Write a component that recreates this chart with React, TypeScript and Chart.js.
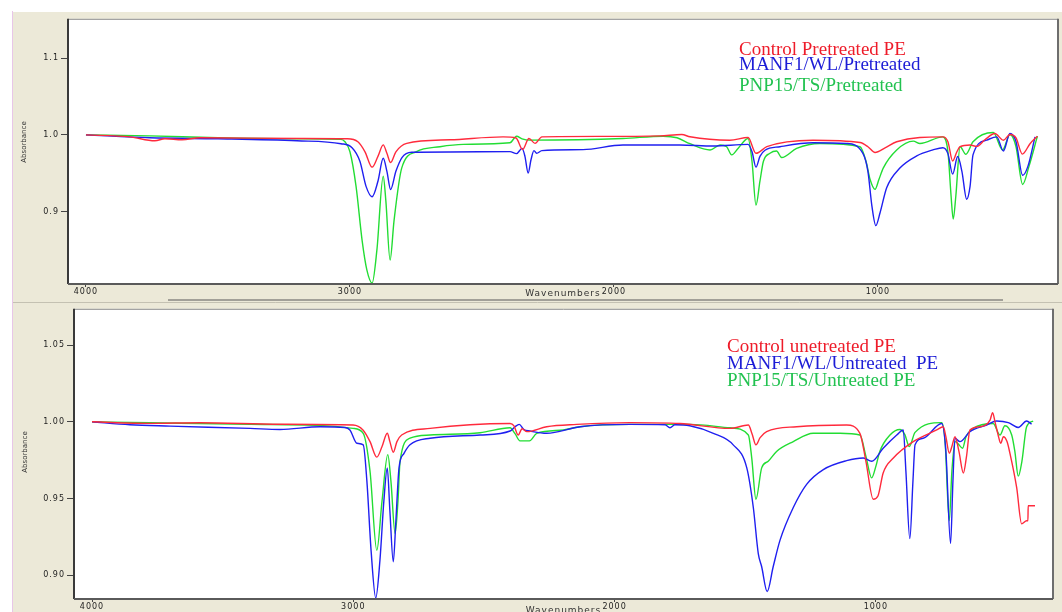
import React, { useEffect, useRef } from "react";
import { Chart, registerables } from "chart.js";

Chart.register(...registerables);

type Pt = [number, number]; // [wavenumber cm-1, absorbance]

// ---------- Top panel (pretreated) ----------
const topControl: Pt[] = [
  [4000, 1.0], [3833, 0.9974], [3739, 0.9923], [3701, 0.9949], [3636, 0.9936], [3568, 0.9962],
  [3189, 0.9953], [3011, 0.9949], [2970, 0.991], [2943, 0.978], [2916, 0.958], [2894, 0.972],
  [2874, 0.987], [2860, 0.976], [2846, 0.964], [2826, 0.978], [2785, 0.989], [2621, 0.9936],
  [2420, 0.9974], [2371, 0.996], [2346, 0.981], [2322, 0.9953], [2299, 0.989], [2273, 0.9974],
  [2053, 0.998], [1826, 0.9987], [1743, 1.0004], [1712, 0.9975], [1561, 0.993], [1492, 0.9965],
  [1462, 0.976], [1421, 0.9846], [1246, 0.993], [1068, 0.99], [1038, 0.9846], [1011, 0.977],
  [973, 0.983], [929, 0.991], [754, 0.9974], [735, 0.991], [717, 0.966], [701, 0.978],
  [689, 0.9846], [651, 0.9868], [626, 0.985], [595, 0.9936], [557, 1.0017], [525, 0.993],
  [500, 1.0004], [477, 0.996], [453, 0.975], [424, 0.9885], [396, 0.9983],
];
const topManf: Pt[] = [
  [4000, 1.0], [3758, 0.9962], [3500, 0.9949], [3201, 0.9923], [3034, 0.9885], [2992, 0.9833],
  [2962, 0.9654], [2939, 0.933], [2916, 0.9196], [2894, 0.9397], [2874, 0.9696], [2860, 0.9526],
  [2846, 0.929], [2826, 0.9526], [2803, 0.9705], [2766, 0.9773], [2621, 0.9778], [2394, 0.9782],
  [2369, 0.9756], [2348, 0.9824], [2337, 0.9718], [2325, 0.9504], [2314, 0.968], [2303, 0.9795],
  [2293, 0.976], [2273, 0.9795], [2117, 0.9808], [1966, 0.9868], [1750, 0.9868], [1625, 0.9855],
  [1492, 0.9876], [1477, 0.978], [1462, 0.958], [1447, 0.972], [1428, 0.98], [1371, 0.9846],
  [1246, 0.9897], [1119, 0.9888], [1057, 0.976], [1038, 0.9526], [1023, 0.9077], [1008, 0.882],
  [992, 0.8987], [967, 0.9312], [917, 0.9568], [853, 0.9727], [792, 0.9804], [754, 0.9833],
  [735, 0.9756], [717, 0.9491], [698, 0.9718], [682, 0.9526], [664, 0.9163], [651, 0.9333],
  [640, 0.974], [588, 0.9932], [550, 0.9974], [525, 0.9791], [500, 1.0017], [477, 0.991],
  [452, 0.9474], [432, 0.959], [405, 0.9974],
];
const topPnp: Pt[] = [
  [4000, 1.0], [3758, 0.9987], [3500, 0.9962], [3189, 0.9949], [3034, 0.9942], [3019, 0.991],
  [3000, 0.978], [2977, 0.9333], [2954, 0.8628], [2936, 0.8244], [2916, 0.8073], [2898, 0.85],
  [2874, 0.9462], [2864, 0.9141], [2848, 0.8372], [2833, 0.8885], [2804, 0.9568], [2748, 0.9782],
  [2659, 0.9846], [2571, 0.9876], [2394, 0.9897], [2369, 0.9983], [2348, 0.9949], [2318, 0.9932],
  [1966, 0.9953], [1814, 0.9983], [1761, 0.9962], [1712, 0.9885], [1636, 0.9804], [1598, 0.9868],
  [1573, 0.9846], [1554, 0.974], [1530, 0.9824], [1492, 0.9953], [1477, 0.9654], [1462, 0.9086],
  [1447, 0.9397], [1434, 0.9654], [1409, 0.976], [1384, 0.979], [1365, 0.9705], [1308, 0.9824],
  [1220, 0.9888], [1068, 0.9846], [1045, 0.9654], [1030, 0.9423], [1011, 0.9291], [996, 0.9423],
  [980, 0.9568], [929, 0.9804], [866, 0.9919], [841, 0.9888], [754, 0.9974], [735, 0.978],
  [723, 0.9205], [715, 0.8906], [705, 0.9205], [689, 0.9846], [667, 0.9747], [640, 0.991],
  [563, 1.003], [528, 0.9804], [500, 1.0004], [477, 0.9846], [452, 0.9355], [428, 0.959],
  [396, 0.9983],
];

// ---------- Bottom panel (untreated) ----------
const botControl: Pt[] = [
  [4000, 1.0], [3778, 0.999], [3587, 0.9994], [3281, 0.9984], [3001, 0.9979], [2963, 0.9947],
  [2936, 0.9871], [2910, 0.977], [2890, 0.9839], [2870, 0.9925], [2860, 0.9871], [2847, 0.9802],
  [2833, 0.9871], [2815, 0.9914], [2706, 0.9957], [2400, 0.9989], [2385, 0.9974], [2369, 0.9914],
  [2354, 0.9955], [2336, 0.9936], [2260, 0.9968], [2145, 0.9983], [1941, 0.9995], [1750, 0.9989],
  [1558, 0.9957], [1488, 0.9979], [1474, 0.9923], [1459, 0.985], [1443, 0.9897], [1418, 0.9936],
  [1303, 0.9968], [1112, 0.9979], [1061, 0.9925], [1038, 0.9743], [1010, 0.9496], [992, 0.9517],
  [972, 0.9667], [933, 0.9764], [857, 0.9871], [767, 0.9947], [742, 0.9968], [732, 0.9903],
  [719, 0.9796], [709, 0.9839], [697, 0.9903], [682, 0.9807], [665, 0.9667], [653, 0.9775],
  [640, 0.9947], [602, 0.9968], [563, 1.0011], [553, 1.006], [544, 1.0], [532, 0.9914],
  [522, 0.986], [512, 0.9903], [498, 0.9871], [487, 0.9796], [461, 0.9571], [442, 0.9335],
  [423, 0.9356], [418, 0.9356], [417, 0.9453], [391, 0.9453],
];
const botManf: Pt[] = [
  [4000, 1.0], [3855, 0.9981], [3701, 0.9972], [3395, 0.9957], [3281, 0.995], [3127, 0.9968],
  [3032, 0.9963], [3013, 0.9947], [2986, 0.986], [2962, 0.985], [2948, 0.9614], [2932, 0.9163],
  [2914, 0.8853], [2898, 0.9099], [2883, 0.9485], [2870, 0.97], [2860, 0.9421], [2847, 0.9088],
  [2837, 0.9356], [2825, 0.97], [2806, 0.9794], [2783, 0.985], [2706, 0.9893], [2515, 0.9914],
  [2400, 0.994], [2381, 0.9968], [2365, 0.9983], [2347, 0.9949], [2324, 0.994], [2260, 0.9925],
  [2132, 0.9968], [1941, 0.9983], [1807, 0.9981], [1788, 0.9961], [1769, 0.9981], [1712, 0.9974],
  [1622, 0.9925], [1546, 0.985], [1494, 0.97], [1469, 0.9442], [1450, 0.9142], [1437, 0.9056],
  [1416, 0.8895], [1393, 0.9056], [1367, 0.9228], [1316, 0.9442], [1265, 0.9593], [1201, 0.9689],
  [1112, 0.9747], [1048, 0.9764], [1016, 0.9743], [972, 0.9828], [920, 0.9914], [895, 0.9947],
  [885, 0.9678], [870, 0.9239], [858, 0.9614], [850, 0.985], [819, 0.9893], [748, 0.9989],
  [732, 0.9807], [714, 0.9207], [705, 0.9614], [697, 0.9893], [678, 0.9871], [640, 0.9936],
  [576, 0.9979], [538, 1.0005], [493, 0.9995], [455, 0.9963], [423, 1.0005], [404, 0.9985],
];
const botPnp: Pt[] = [
  [4000, 1.0], [3778, 0.9994], [3395, 0.9984], [3127, 0.9977], [3001, 0.9957], [2962, 0.9925],
  [2936, 0.9678], [2910, 0.9163], [2890, 0.9485], [2868, 0.9786], [2856, 0.9614], [2840, 0.9271],
  [2829, 0.9485], [2821, 0.9743], [2783, 0.9893], [2706, 0.9914], [2515, 0.9929], [2400, 0.9961],
  [2381, 0.9923], [2362, 0.9876], [2326, 0.9876], [2298, 0.9925], [2196, 0.9947], [2132, 0.9968],
  [1941, 0.9983], [1712, 0.9983], [1558, 0.9961], [1488, 0.9914], [1475, 0.9764], [1459, 0.9496],
  [1437, 0.97], [1412, 0.9743], [1380, 0.9807], [1316, 0.9871], [1240, 0.9925], [1137, 0.9925],
  [1061, 0.9914], [1038, 0.9775], [1016, 0.9635], [1000, 0.971], [985, 0.9807], [946, 0.9914],
  [908, 0.995], [889, 0.9916], [872, 0.9839], [850, 0.9931], [748, 0.9995], [735, 0.9871],
  [719, 0.9356], [709, 0.9678], [697, 0.9871], [686, 0.9858], [668, 0.9828], [655, 0.9903],
  [627, 0.9957], [551, 0.9989], [525, 0.9914], [506, 0.9974], [480, 0.9914], [468, 0.9807],
  [455, 0.9646], [441, 0.9743], [423, 0.9968], [398, 1.0005],
];

// ---------- Axes / labels ----------
const xTicks = [4000, 3000, 2000, 1000];
const topYTicks = [0.9, 1.0, 1.1];
const botYTicks = [0.9, 0.95, 1.0, 1.05];
const topLabels = ["Control Pretreated PE", "MANF1/WL/Pretreated", "PNP15/TS/Pretreated"];
const botLabels = ["Control unetreated PE", "MANF1/WL/Untreated  PE", "PNP15/TS/Untreated PE"];
const lineColors = ["#ff2a3c", "#1f1ff0", "#22dd33"];
const textColors = ["#ee1c2a", "#1c1cd6", "#22c250"];
const xTitle = "Wavenumbers";
const yTitle = "Absorbance";

interface PanelProps {
  left: number;
  top: number;
  width: number;
  height: number;
  area: { left: number; top: number; right: number; bottom: number };
  xMin: number;
  xMax: number;
  yMin: number;
  yMax: number;
  yTicks: number[];
  yDecimals: number;
  series: Pt[][];
  labels: string[];
  legendX: number;
  legendBaselines: number[];
  absPos: [number, number];
  wnY: number;
  scrollLine: boolean;
  topEdge: boolean;
}

const decorPlugin = {
  id: "panelDecor",
  beforeDraw(chart: any) {
    const { ctx, chartArea: a } = chart;
    ctx.save();
    ctx.fillStyle = "#ece9d8";
    ctx.fillRect(0, 0, chart.width, chart.height);
    ctx.fillStyle = "#ffffff";
    ctx.fillRect(a.left, a.top, a.right - a.left, a.bottom - a.top);
    ctx.restore();
    (ctx as any).letterSpacing = "1px";
  },
  afterDraw(chart: any, _args: any, o: any) {
    const { ctx, chartArea: a } = chart;
    ctx.save();
    (ctx as any).letterSpacing = "0px";
    // frame
    ctx.lineWidth = 1;
    ctx.strokeStyle = "#8c8c8c";
    ctx.beginPath();
    ctx.moveTo(a.left, a.top + 0.5);
    ctx.lineTo(a.right, a.top + 0.5);
    ctx.stroke();
    ctx.lineWidth = 2;
    ctx.strokeStyle = "#6e6e6e";
    ctx.beginPath();
    ctx.moveTo(a.right, a.top);
    ctx.lineTo(a.right, a.bottom);
    ctx.stroke();
    ctx.strokeStyle = "#3a3a3a";
    ctx.beginPath();
    ctx.moveTo(a.left, a.top);
    ctx.lineTo(a.left, a.bottom);
    ctx.stroke();
    ctx.strokeStyle = "#5a5a5a";
    ctx.beginPath();
    ctx.moveTo(a.left, a.bottom);
    ctx.lineTo(a.right, a.bottom);
    ctx.stroke();

    if (o.topEdge) {
      ctx.lineWidth = 1;
      ctx.strokeStyle = "#c4c1b2";
      ctx.beginPath();
      ctx.moveTo(0, 0.5);
      ctx.lineTo(chart.width, 0.5);
      ctx.stroke();
    }

    // y title
    ctx.save();
    ctx.translate(o.absPos[0], o.absPos[1]);
    ctx.rotate(-Math.PI / 2);
    ctx.font = '7px "DejaVu Sans"';
    ctx.fillStyle = "#333";
    ctx.textAlign = "center";
    ctx.textBaseline = "middle";
    ctx.fillText(yTitle, 0, 0);
    ctx.restore();

    // x title
    ctx.save();
    (ctx as any).letterSpacing = "1px";
    ctx.font = '9px "DejaVu Sans"';
    ctx.fillStyle = "#333";
    ctx.textAlign = "center";
    ctx.textBaseline = "middle";
    ctx.fillText(xTitle, (a.left + a.right) / 2, o.wnY);
    ctx.restore();

    // scroll line
    if (o.scrollLine) {
      ctx.strokeStyle = "#a2a098";
      ctx.lineWidth = 2;
      ctx.beginPath();
      ctx.moveTo(155, chart.height - 2);
      ctx.lineTo(990, chart.height - 2);
      ctx.stroke();
    }

    // legend text
    ctx.font = '19px "Liberation Serif"';
    ctx.textAlign = "left";
    ctx.textBaseline = "alphabetic";
    o.labels.forEach((t: string, i: number) => {
      ctx.fillStyle = textColors[i];
      ctx.fillText(t, o.legendX, o.legendBaselines[i]);
    });
    ctx.restore();
  },
};

function Panel(p: PanelProps) {
  const ref = useRef<HTMLCanvasElement>(null);
  useEffect(() => {
    const canvas = ref.current!;
    const tickFont = { family: "DejaVu Sans", size: 8 };
    const chart = new Chart(canvas, {
      type: "line",
      data: {
        datasets: p.series.map((s, i) => ({
          label: p.labels[i],
          data: s.map(([x, y]) => ({ x, y })),
          borderColor: lineColors[i],
          borderWidth: 1.4,
          pointRadius: 0,
          fill: false,
          cubicInterpolationMode: "monotone" as const,
        })),
      },
      options: {
        responsive: false,
        maintainAspectRatio: false,
        animation: false,
        layout: {
          padding: { left: 0, top: p.area.top, right: p.width - p.area.right, bottom: 0 },
        },
        scales: {
          x: {
            type: "linear",
            reverse: true,
            min: p.xMin,
            max: p.xMax,
            afterBuildTicks: (ax: any) => {
              ax.ticks = xTicks.map((v) => ({ value: v }));
            },
            afterFit: (ax: any) => {
              ax.height = p.height - p.area.bottom;
            },
            grid: { drawOnChartArea: false, drawTicks: true, tickLength: 3, color: "#444" },
            border: { display: false },
            ticks: {
              font: tickFont,
              color: "#222",
              padding: 0,
              maxRotation: 0,
              autoSkip: false,
              callback: (v: any) => String(v),
            },
          },
          y: {
            type: "linear",
            min: p.yMin,
            max: p.yMax,
            afterBuildTicks: (ax: any) => {
              ax.ticks = p.yTicks.map((v) => ({ value: v }));
            },
            afterFit: (ax: any) => {
              ax.width = p.area.left;
            },
            grid: { drawOnChartArea: false, drawTicks: true, tickLength: 7, color: "#444" },
            border: { display: false },
            ticks: {
              font: tickFont,
              color: "#222",
              padding: 2,
              callback: (v: any) => Number(v).toFixed(p.yDecimals),
            },
          },
        },
        plugins: {
          legend: { display: false },
          tooltip: { enabled: false },
          panelDecor: {
            labels: p.labels,
            legendX: p.legendX,
            legendBaselines: p.legendBaselines,
            absPos: p.absPos,
            wnY: p.wnY,
            scrollLine: p.scrollLine,
            topEdge: p.topEdge,
          },
        } as any,
      },
      plugins: [decorPlugin],
    } as any);
    return () => chart.destroy();
  }, []);
  return (
    <canvas
      ref={ref}
      width={p.width}
      height={p.height}
      style={{ position: "absolute", left: p.left, top: p.top, width: p.width, height: p.height, display: "block" }}
    />
  );
}

export default function App() {
  return (
    <div
      style={{
        position: "absolute",
        left: 0,
        top: 0,
        width: 1062,
        height: 612,
        background: "#ffffff",
        overflow: "hidden",
      }}
    >
      <div style={{ position: "absolute", left: 12, top: 11, width: 1, height: 601, background: "#e8c6e8" }} />
      <Panel
        left={13}
        top={12}
        width={1049}
        height={290}
        area={{ left: 55, top: 3, right: 1045, bottom: 272 }}
        xMin={318}
        xMax={4068}
        yMin={0.806}
        yMax={1.151}
        yTicks={topYTicks}
        yDecimals={1}
        series={[topControl, topManf, topPnp]}
        labels={topLabels}
        legendX={726}
        legendBaselines={[43, 58, 79]}
        absPos={[11, 130]}
        wnY={282}
        scrollLine={true}
        topEdge={false}
      />
      <Panel
        left={13}
        top={302}
        width={1049}
        height={310}
        area={{ left: 61, top: 3, right: 1040, bottom: 297 }}
        xMin={322}
        xMax={4069}
        yMin={0.8846}
        yMax={1.0736}
        yTicks={botYTicks}
        yDecimals={2}
        series={[botControl, botManf, botPnp]}
        labels={botLabels}
        legendX={714}
        legendBaselines={[50, 67, 84]}
        absPos={[12, 150]}
        wnY={309}
        scrollLine={false}
        topEdge={true}
      />
    </div>
  );
}
